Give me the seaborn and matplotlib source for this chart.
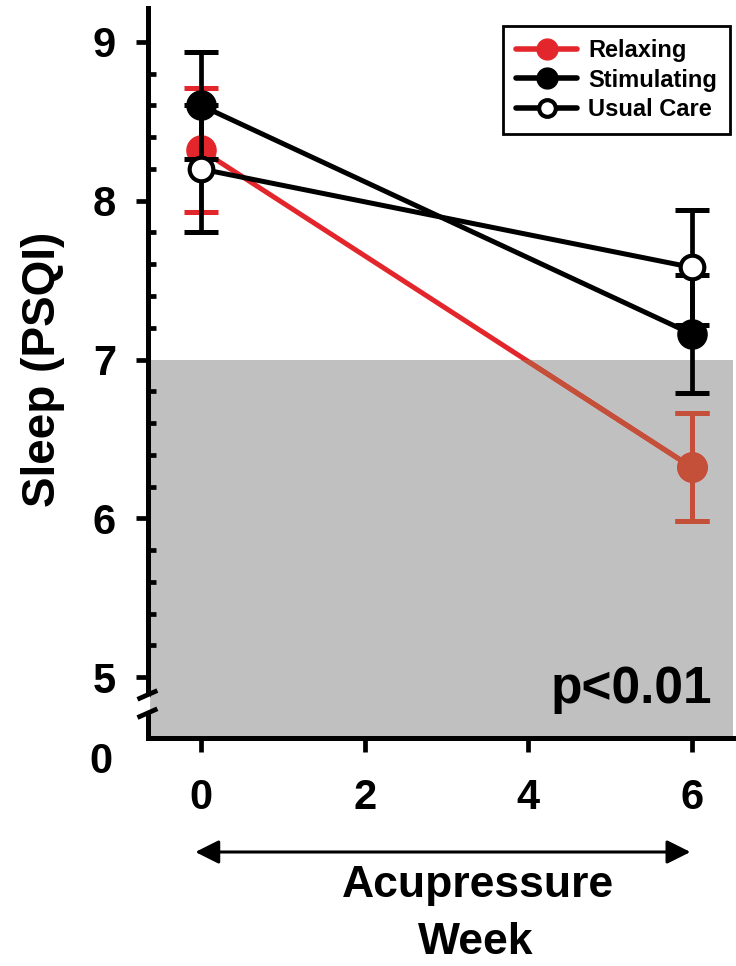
import numpy as np
import pandas as pd
import matplotlib.pyplot as plt
import seaborn as sns
from matplotlib.lines import Line2D
from matplotlib.patches import Rectangle
from matplotlib.ticker import FixedLocator

# data (mean PSQI and error half-widths)
weeks = [0, 6]
groups = ["Relaxing", "Stimulating", "Usual Care"]
relaxing = [8.32, 6.32]
relaxing_err = [0.39, 0.34]
stimulating = [8.60, 7.16]
stimulating_err = [0.34, 0.37]
usual_care = [8.20, 7.58]
usual_care_err = [0.40, 0.36]
y_ticks = [5, 6, 7, 8, 9]
x_ticks = [0, 2, 4, 6]
threshold = 7

RED = "#E3262B"
RED_DARK = "#C4503A"
GRAY = "#C0C0C0"

df = pd.DataFrame({
    "week": weeks * 3,
    "psqi": relaxing + stimulating + usual_care,
    "err": relaxing_err + stimulating_err + usual_care_err,
    "group": np.repeat(groups, len(weeks)),
})

sns.set_style("ticks")
plt.rcParams["font.family"] = ["Liberation Sans", "DejaVu Sans"]
plt.rcParams["font.weight"] = "bold"
for key in ["text.color", "axes.labelcolor", "xtick.color", "ytick.color", "axes.edgecolor"]:
    plt.rcParams[key] = "black"

fig = plt.figure(figsize=(7.36, 9.66), dpi=100)
ax = fig.add_axes([148 / 736, 1 - 738 / 966, 585 / 736, 730 / 966])

ylo, yhi = 4.616, 9.214
ax.set_xlim(-0.648, 6.5)
ax.set_ylim(ylo, yhi)

ax.axhspan(ylo, threshold, color=GRAY, lw=0, zorder=0)

styles = {
    "Relaxing": dict(color=RED, mfc=RED, mec=RED, ms=21, mew=1, z=3),
    "Stimulating": dict(color="black", mfc="black", mec="black", ms=21, mew=1, z=4),
    "Usual Care": dict(color="black", mfc="white", mec="black", ms=17, mew=3, z=5),
}

for g in groups:
    s = styles[g]
    sub = df[df["group"] == g]
    ax.errorbar(sub["week"], sub["psqi"], yerr=sub["err"], fmt="none",
                ecolor=s["color"], elinewidth=3.4, capsize=12, capthick=3.6,
                zorder=s["z"])
    sns.lineplot(data=sub, x="week", y="psqi", ax=ax, color=s["color"],
                 lw=3.6, marker="o", markersize=s["ms"],
                 markerfacecolor=s["mfc"], markeredgecolor=s["mec"],
                 markeredgewidth=s["mew"], zorder=s["z"], legend=False)

# relaxing series looks darker where it passes over the gray zone
clip = Rectangle((-1, ylo), 8, threshold - ylo, transform=ax.transData)
sub = df[df["group"] == "Relaxing"]
eb = ax.errorbar(sub["week"], sub["psqi"], yerr=sub["err"], fmt="none",
                 ecolor=RED_DARK, elinewidth=3.4, capsize=12, capthick=3.6,
                 zorder=3.5)
for art in eb.get_children():
    art.set_clip_path(clip)
ln, = ax.plot(sub["week"], sub["psqi"], color=RED_DARK, lw=3.6, marker="o",
              ms=21, mfc=RED_DARK, mec=RED_DARK, mew=1, zorder=3.5)
ln.set_clip_path(clip)

sns.despine(ax=ax)
for side in ["left", "bottom"]:
    ax.spines[side].set_linewidth(3.6)
    ax.spines[side].set_zorder(6)

ax.yaxis.set_major_locator(FixedLocator(y_ticks))
ax.yaxis.set_minor_locator(FixedLocator([v / 10 for v in range(50, 92, 2) if v % 10 != 0]))
ax.xaxis.set_major_locator(FixedLocator(x_ticks))
ax.tick_params(axis="y", which="major", direction="out", length=9, width=3.4,
               labelsize=30, pad=14)
ax.tick_params(axis="y", which="minor", direction="in", length=6, width=3.4)
ax.tick_params(axis="x", which="major", direction="out", length=10, width=3.4,
               labelsize=30, pad=19)
for lab in ax.get_xticklabels() + ax.get_yticklabels():
    lab.set_fontweight("bold")

ax.set_xlabel("")
ax.set_ylabel("Sleep (PSQI)", fontsize=33, fontweight="bold")
ax.yaxis.set_label_coords(-0.142, 0.505)

# axis break and the origin label
ax.plot([0, 0], [0.038, 0.055], transform=ax.transAxes, color="white", lw=4,
        clip_on=False, zorder=7)
for yb in [0.034, 0.059]:
    ax.plot([-0.018, 0.016], [yb - 0.006, yb + 0.006], transform=ax.transAxes,
            color="black", lw=3.4, clip_on=False, zorder=8, solid_capstyle="butt")
ax.text(-0.06, -0.033, "0", transform=ax.transAxes, ha="right", va="center",
        fontsize=30, fontweight="bold")

ax.text(6.25, 4.92, "p<0.01", ha="right", va="center", fontsize=37,
        fontweight="bold", zorder=6)

handles = [
    Line2D([], [], color=RED, lw=4, marker="o", ms=15, mfc=RED, mec=RED),
    Line2D([], [], color="black", lw=4, marker="o", ms=15, mfc="black", mec="black"),
    Line2D([], [], color="black", lw=4, marker="o", ms=12, mfc="white", mec="black", mew=3),
]
leg = ax.legend(handles, groups, loc="upper left",
                bbox_to_anchor=(503 / 736, 1 - 26 / 966), bbox_transform=fig.transFigure,
                prop={"size": 17, "weight": "bold"}, frameon=True, fancybox=False,
                edgecolor="black", framealpha=1, borderpad=0.55, handlelength=2.6,
                handletextpad=0.45, labelspacing=0.28, borderaxespad=0)
leg.get_frame().set_linewidth(2)
leg.set_zorder(10)

# acupressure arrow below the week axis
ax.annotate("", xy=(5.98, 1 - 852 / 966), xytext=(-0.07, 1 - 852 / 966),
            xycoords=("data", "figure fraction"), textcoords=("data", "figure fraction"),
            arrowprops=dict(arrowstyle="<|-|>", color="black", lw=2.2,
                            mutation_scale=36, shrinkA=0, shrinkB=0),
            annotation_clip=False)
fig.text(478 / 736, 1 - 885 / 966, "Acupressure", ha="center", va="center",
         fontsize=32, fontweight="bold")
fig.text(476 / 736, 1 - 943 / 966, "Week", ha="center", va="center",
         fontsize=32, fontweight="bold")

fig.savefig("out.png", dpi=100)
